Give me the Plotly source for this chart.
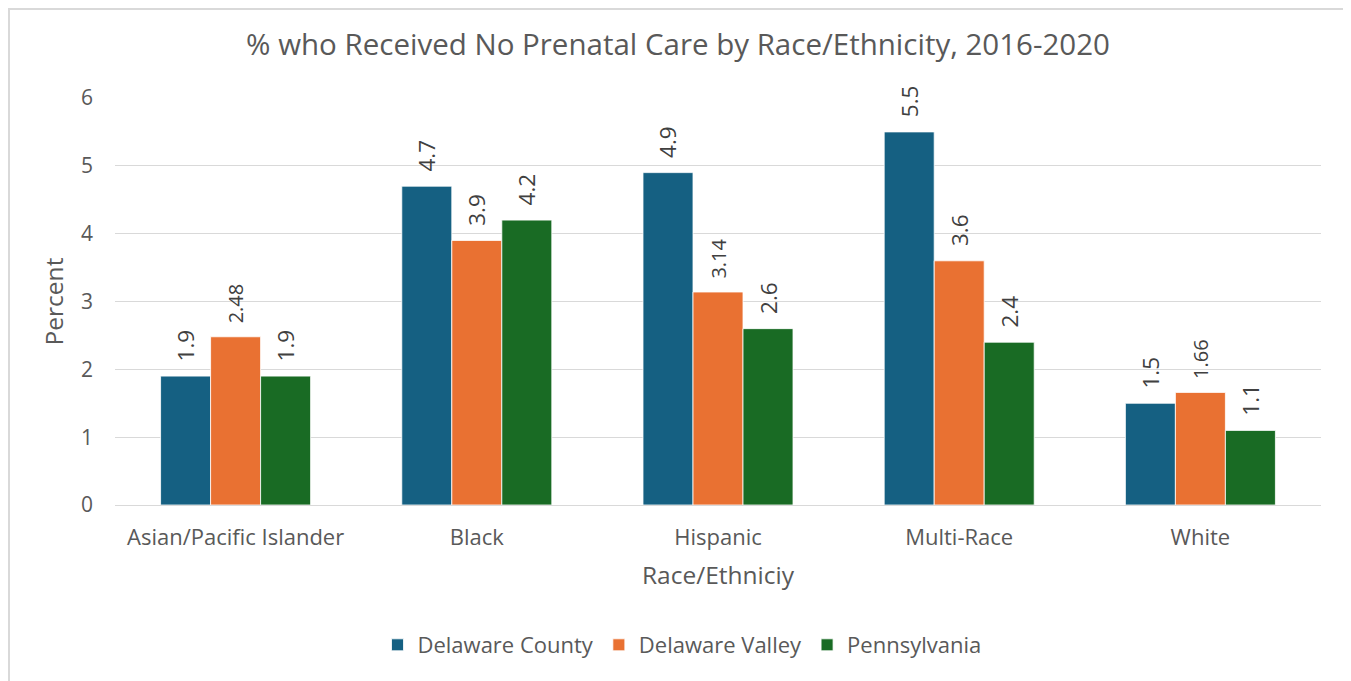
import plotly.graph_objects as go

categories = ["Asian/Pacific Islander", "Black", "Hispanic", "Multi-Race", "White"]
delaware_county = [1.9, 4.7, 4.9, 5.5, 1.5]
delaware_valley = [2.48, 3.9, 3.14, 3.6, 1.66]
pennsylvania = [1.9, 4.2, 2.6, 2.4, 1.1]
y_ticks = [0, 1, 2, 3, 4, 5, 6]

series = [
    ("Delaware County", delaware_county, "#156082"),
    ("Delaware Valley", delaware_valley, "#E97132"),
    ("Pennsylvania", pennsylvania, "#196B24"),
]

FONT = "Open Sans, Noto Sans, Liberation Sans, Arial, sans-serif"
GAP = "\u00a0\u00a0"  # label gap above bar

fig = go.Figure()
for name, vals, color in series:
    fig.add_trace(go.Bar(
        name=name, x=categories, y=vals,
        marker=dict(color=color, line=dict(color="white", width=0.8)),
        text=[GAP + str(v) for v in vals], textposition="outside", textangle=-90,
        textfont=dict(size=22.5, color="#404040", family=FONT),
        cliponaxis=False,
    ))

# page offset of 8px (body margin) is compensated
OFF = 8
W, H = 1351 - OFF, 681 - OFF
L, R, T, B = 115 - OFF, 30, 98 - OFF, 176
pw, ph = W - L - R, H - T - B

def px_x(p):  # page px -> paper
    return (p - OFF - L) / pw

def px_y(p):
    return (H - B - (p - OFF)) / ph

fig.add_shape(type="rect", xref="paper", yref="paper",
              x0=(1 - L) / pw, x1=px_x(1346), y0=px_y(720), y1=(H - B - 1) / ph,
              line=dict(color="#d9d9d9", width=2), fillcolor="rgba(0,0,0,0)", layer="below")

fig.update_layout(
    width=W, height=H,
    margin=dict(l=L, r=R, t=T, b=B),
    paper_bgcolor="white", plot_bgcolor="white",
    font=dict(family=FONT, color="#595959"),
    title=dict(text="% who Received No Prenatal Care by Race/Ethnicity, 2016-2020",
               x=px_x(678) * pw / W + L / W, xref="container", xanchor="center",
               y=1 - (45 - OFF) / H, yanchor="middle",
               font=dict(size=29.5, color="#595959")),
    barmode="group", bargap=0.378, bargroupgap=0,
    showlegend=True,
    legend=dict(orientation="h", x=px_x(682), xanchor="center", y=px_y(645), yanchor="middle",
                font=dict(size=22, color="#595959"), itemwidth=30, traceorder="normal"),
    xaxis=dict(title=dict(text="Race/Ethniciy", font=dict(size=24.5, color="#595959"), standoff=16),
               tickfont=dict(size=22, color="#595959"), showline=True, linecolor="#d9d9d9",
               linewidth=1, ticks="", showgrid=False, ticklabelstandoff=13),
    yaxis=dict(title=dict(text="Percent", font=dict(size=24.5, color="#595959"), standoff=10),
               range=[0, 6], tickvals=y_ticks, tickfont=dict(size=21, color="#595959"),
               showgrid=True, gridcolor="#d9d9d9", gridwidth=1, zeroline=False,
               ticks="", ticklen=0, ticklabelstandoff=21),
)

fig.write_html("out.html")
